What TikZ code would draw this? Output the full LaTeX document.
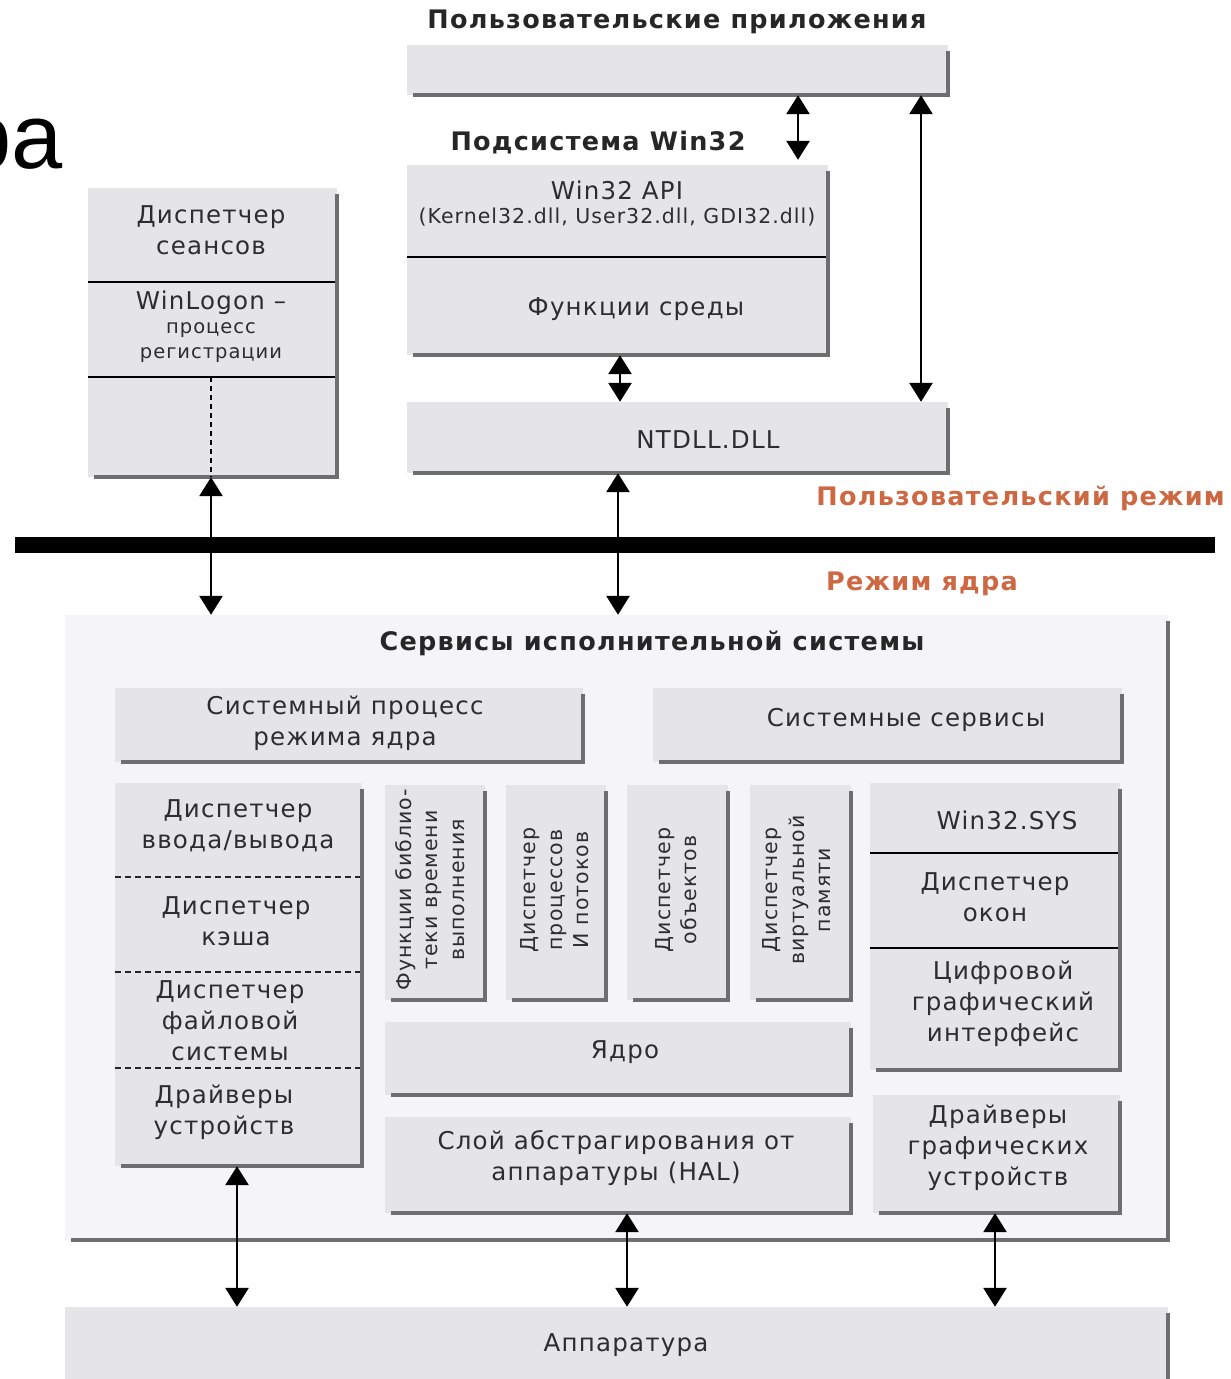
\documentclass[tikz,border=0pt]{standalone}
\usepackage{fontspec}
\setmainfont{DejaVu Sans}
\newfontfamily\dv[LetterSpace=5]{DejaVu Sans}
\newfontfamily\ar{Liberation Sans}
\usetikzlibrary{arrows.meta}
\definecolor{boxg}{RGB}{229,228,231}
\definecolor{execg}{RGB}{245,244,246}
\definecolor{shd}{RGB}{110,110,112}
\definecolor{txt}{RGB}{45,45,45}
\definecolor{orng}{RGB}{205,104,66}
\newcommand\fsz[2]{\fontsize{#1}{#2}\selectfont}
\newcommand\gb[6][gbox]{%
  \node[#1, minimum width={(#5-#3)*1pt}, minimum height={(#6-#4)*1pt}] (#2) at ({(#3+#5)/2},{(#4+#6)/2}) {};
  \draw[shline] ([yshift=-6pt]#2.north east) -- (#2.south east) -- ([xshift=6pt]#2.south west);
}
\begin{document}
\begin{tikzpicture}[x=1pt,y=-1pt,
  gbox/.style={fill=boxg, draw=none, inner sep=0pt},
  ebox/.style={fill=execg, draw=none, inner sep=0pt},
  shline/.style={draw=shd, line width=4pt},
  div/.style={draw=black, line width=1.8pt},
  ddiv/.style={draw=black!85, line width=2.2pt, dash pattern=on 6pt off 4pt},
  vdash/.style={draw=black, line width=1.4pt, dash pattern=on 5pt off 4pt},
  arr/.style={line width=2.8pt, {Triangle[width=23pt,length=19pt]}-{Triangle[width=23pt,length=19pt]}},
  lbl/.style={text=txt, font=\dv\fsz{24.5}{31}, align=center, inner sep=0pt},
  slbl/.style={text=txt, font=\dv\fsz{19.5}{25}, align=center, inner sep=0pt},
  vlbl/.style={text=txt, font=\dv\fsz{20.5}{26.5}, align=center, inner sep=0pt, rotate=90},
  head/.style={text=black!85, font=\dv\bfseries\fsz{25.5}{28}, inner sep=0pt},
  mode/.style={text=orng, font=\dv\bfseries\fsz{25.5}{28}, inner sep=0pt}]
\useasboundingbox (0,0) rectangle (1231,1379);
\fill[white] (0,0) rectangle (1231,1379);

% slide title fragment
\node[font=\ar\fsz{92}{92}, anchor=base west, inner sep=0pt] (title) at (-40,168) {ра};

% ---------- user mode ----------
\node[head] (uaT) at (677,22) {Пользовательские приложения};
\gb{ua}{407}{45}{948}{95}
\node[head] (w32T) at (598,143) {Подсистема Win32};
\gb{w32}{407}{165}{828}{355}
\draw[div] (407,257) -- (826,257);
\node[lbl] (w32a) at (617,190) {Win32 API};
\node[slbl, font=\dv\fsz{20.5}{25}] (w32b) at (617,217) {(Kernel32.dll, User32.dll, GDI32.dll)};
\node[lbl] (envf) at (636,309) {Функции среды};
\gb{ntdll}{407}{402}{948}{473}
\node[lbl] (ntT) at (708,440) {NTDLL.DLL};

\gb{sm}{88}{188}{337}{477}
\draw[div] (88,282) -- (335,282);
\draw[div] (88,377) -- (335,377);
\node[lbl] (smT) at (211,230) {Диспетчер\\сеансов};
\node[lbl] (wlT) at (211,303) {WinLogon –};
\node[slbl] (wlS) at (211,343) {процесс\\регистрации};
\draw[vdash] (211,377) -- (211,477);

% mode separator
\draw[line width=16pt] (15,545) -- (1215,545);
\node[mode, anchor=east] (umT) at (1225,498) {Пользовательский режим};
\node[mode] (kmT) at (922,584) {Режим ядра};

% ---------- kernel mode ----------
\gb[ebox]{exec}{65}{615}{1168}{1240}
\node[head] (exT) at (652,643) {Сервисы исполнительной системы};

\gb{skp}{115}{688}{583}{762}
\node[lbl] (skpT) at (345,723) {Системный процесс\\режима ядра};
\gb{ss}{653}{688}{1122}{762}
\node[lbl] (ssT) at (906,720) {Системные сервисы};

\gb{io}{115}{783}{362}{1166}
\draw[ddiv] (115,877) -- (360,877);
\draw[ddiv] (115,972) -- (360,972);
\draw[ddiv] (115,1068) -- (360,1068);
\node[lbl] (ioT) at (238,826) {Диспетчер\\ввода/вывода};
\node[lbl] (cacheT) at (236,921) {Диспетчер\\кэша};
\node[lbl] (fsT) at (230,1021) {Диспетчер\\файловой\\системы};
\node[lbl] (drvT) at (224,1112) {Драйверы\\устройств};

\gb{rtl}{385}{785}{485}{1000}
\gb{pm}{506}{785}{606}{1000}
\gb{om}{627}{785}{728}{1000}
\gb{vm}{750}{785}{851}{1000}
\node[vlbl] (rtlT) at (430,890) {Функции библио-\\теки времени\\выполнения};
\node[vlbl] (pmT) at (555,890) {Диспетчер\\процессов\\И потоков};
\node[vlbl] (omT) at (676,890) {Диспетчер\\объектов};
\node[vlbl] (vmT) at (797,890) {Диспетчер\\виртуальной\\памяти};

\gb{w32s}{870}{783}{1120}{1070}
\draw[div] (870,853) -- (1118,853);
\draw[div] (870,948) -- (1118,948);
\node[lbl] (w32sT) at (1007,820) {Win32.SYS};
\node[lbl] (wmT) at (995,897) {Диспетчер\\окон};
\node[lbl] (gdiT) at (1003,1004) {Цифровой\\графический\\интерфейс};

\gb{core}{385}{1022}{851}{1095}
\node[lbl] (coreT) at (625,1052) {Ядро};
\gb{hal}{385}{1117}{851}{1213}
\node[lbl] (halT) at (616,1158) {Слой абстрагирования от\\аппаратуры (HAL)};
\gb{gdrv}{873}{1095}{1120}{1213}
\node[lbl] (gdrvT) at (998,1148) {Драйверы\\графических\\устройств};

\gb{hw}{65}{1307}{1168}{1384}
\node[lbl] (hwT) at (626,1345) {Аппаратура};

% ---------- connectors ----------
\coordinate (c798) at (798,0);
\coordinate (c921) at (921,0);
\coordinate (c620) at (620,0);
\coordinate (c618) at (618,0);
\coordinate (c211) at (211,0);
\coordinate (c237) at (237,0);
\coordinate (c627) at (627,0);
\coordinate (c995) at (995,0);
\draw[arr] (ua.south -| c798) -- ([yshift=5pt]w32.north -| c798);
\draw[arr] (ua.south -| c921) -- (ntdll.north -| c921);
\draw[arr] (w32.south -| c620) -- (ntdll.north -| c620);
\draw[arr] (sm.south -| c211) -- (exec.north -| c211);
\draw[arr] (ntdll.south -| c618) -- (exec.north -| c618);
\draw[arr] (io.south -| c237) -- (hw.north -| c237);
\draw[arr] (hal.south -| c627) -- (hw.north -| c627);
\draw[arr] (gdrv.south -| c995) -- (hw.north -| c995);
\end{tikzpicture}
\end{document}
